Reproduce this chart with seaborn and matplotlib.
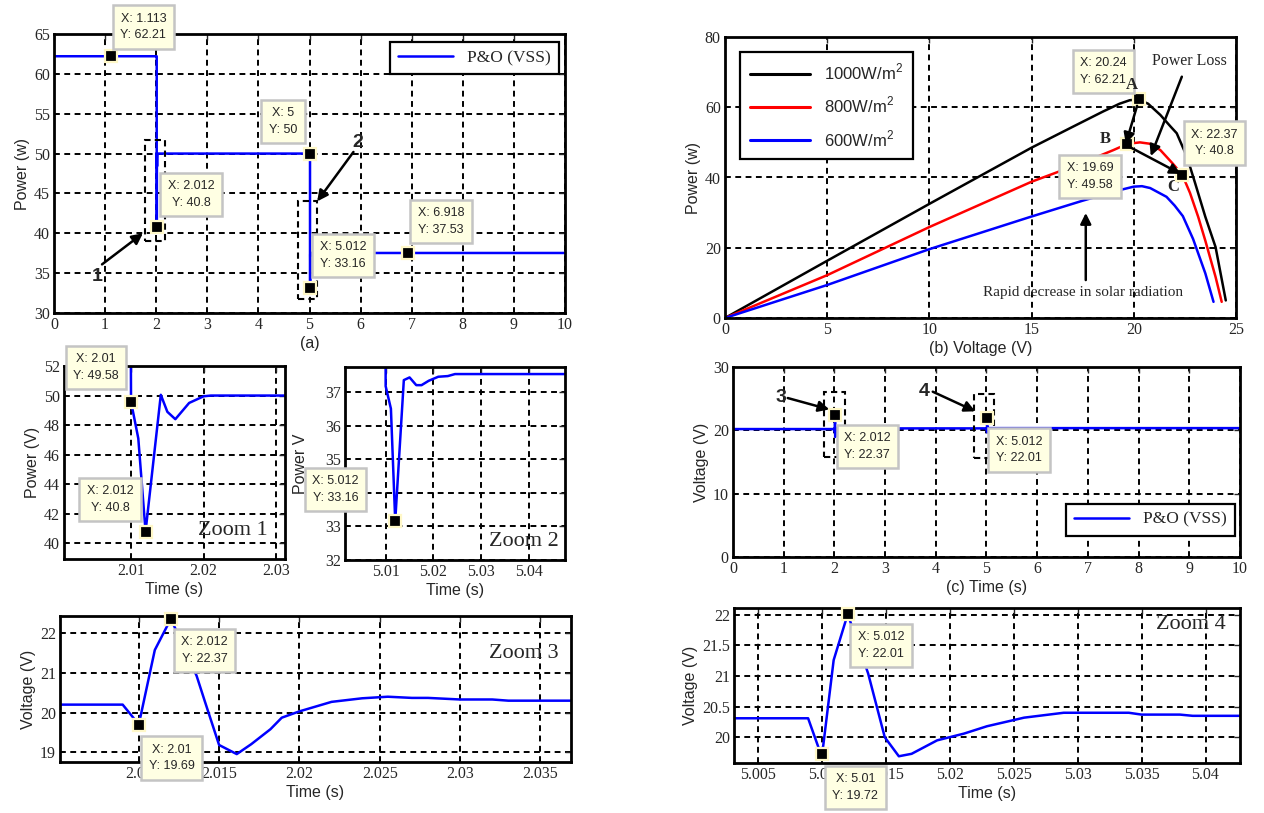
import numpy as np
import pandas as pd
import matplotlib
matplotlib.use("Agg")
import matplotlib.pyplot as plt
import matplotlib.patches as mpatches
from matplotlib.ticker import FuncFormatter
import seaborn as sns

# ---------------- data ----------------
# PV power vs time (panel a, zoom 1, zoom 2)
power_t = [0.0, 2.0, 2.0099, 2.0100, 2.0110, 2.0120, 2.0141, 2.0150, 2.0161, 2.0180,
           2.0200, 2.0210, 5.0, 5.0099, 5.0100, 5.0111, 5.0120, 5.0138, 5.0150, 5.0164,
           5.0175, 5.0190, 5.0210, 5.0230, 5.0245, 10.0]
power_w = [62.21, 62.21, 62.21, 49.58, 47.1, 40.8, 50.05, 48.9, 48.4, 49.5,
           49.95, 50.0, 50.0, 50.0, 37.17, 36.5, 33.16, 37.35, 37.43, 37.2,
           37.2, 37.33, 37.45, 37.47, 37.53, 37.53]

# PV voltage vs time (panel c, zoom 3, zoom 4)
volt_t = [0.0, 2.0090, 2.0097, 2.0100, 2.0110, 2.0120, 2.0136, 2.0141, 2.0150, 2.0161,
          2.0170, 2.0182, 2.0189, 2.0200, 2.0220, 2.0239, 2.0255, 2.0270, 2.0280, 2.0300,
          2.0320, 2.0330, 2.0370, 5.0089, 5.0097, 5.0100, 5.0109, 5.0120, 5.0136, 5.0149,
          5.0160, 5.0170, 5.0190, 5.0211, 5.0229, 5.0258, 5.0289, 5.0340, 5.0350, 5.0380,
          5.0390, 10.0]
volt_v = [20.2, 20.2, 19.85, 19.69, 21.58, 22.37, 20.93, 20.3, 19.18, 18.95,
          19.2, 19.58, 19.87, 20.03, 20.27, 20.36, 20.4, 20.37, 20.37, 20.33,
          20.33, 20.3, 20.3, 20.31, 19.84, 19.72, 21.26, 22.01, 21.04, 20.0,
          19.69, 19.73, 19.95, 20.06, 20.18, 20.32, 20.4, 20.4, 20.37, 20.37,
          20.35, 20.35]

# P-V curves (panel b)
v_1000 = [0, 5, 10, 15, 17, 18.5, 19.3, 19.8, 20.24, 20.7, 21.3, 21.8, 22.1, 22.6, 23.0, 23.5, 24.0, 24.5]
p_1000 = [0, 16.3, 32.5, 48.5, 54.4, 58.8, 61.0, 62.0, 62.21, 61.0, 57.8, 54.5, 52.6, 45.9, 38.4, 28.8, 20.2, 5.0]
v_800 = [0, 5, 10, 15, 17.5, 19.0, 19.69, 20.3, 20.8, 21.3, 21.9, 22.37, 22.75, 23.15, 23.5, 24.0, 24.3]
p_800 = [0, 12.2, 25.9, 38.8, 44.2, 47.8, 49.58, 50.0, 49.6, 47.8, 44.0, 40.8, 35.6, 28.8, 22.0, 11.7, 4.6]
v_600 = [0, 5, 10, 15, 17.5, 19.3, 20.0, 20.4, 20.8, 21.6, 22.0, 22.4, 22.9, 23.5, 23.9]
p_600 = [0, 9.4, 19.6, 28.9, 33.4, 36.4, 37.4, 37.53, 37.0, 34.5, 32.0, 29.0, 22.5, 12.7, 4.6]
pv_labels = ["1000W/m$^2$", "800W/m$^2$", "600W/m$^2$"]

# data tips
tips_a_x = [1.113, 2.012, 5.0, 5.012, 6.918]
tips_a_y = [62.21, 40.8, 50.0, 33.16, 37.53]
tips_b_x = [20.24, 19.69, 22.37]
tips_b_y = [62.21, 49.58, 40.8]
tips_c_x = [2.012, 5.012]
tips_c_y = [22.37, 22.01]
tips_z1_x = [2.01, 2.012]
tips_z1_y = [49.58, 40.8]
tips_z2_x = [5.012]
tips_z2_y = [33.16]
tips_z3_x = [2.012, 2.01]
tips_z3_y = [22.37, 19.69]
tips_z4_x = [5.012, 5.01]
tips_z4_y = [22.01, 19.72]

# ticks
ticks_a_x = list(range(0, 11)); ticks_a_y = [30, 35, 40, 45, 50, 55, 60, 65]
ticks_b_x = [0, 5, 10, 15, 20, 25]; ticks_b_y = [0, 20, 40, 60, 80]
ticks_c_x = list(range(0, 11)); ticks_c_y = [0, 10, 20, 30]
ticks_z1_x = [2.01, 2.02, 2.03]; ticks_z1_y = [40, 42, 44, 46, 48, 50, 52]
ticks_z2_x = [5.01, 5.02, 5.03, 5.04]; ticks_z2_y = [32, 33, 34, 35, 36, 37]
ticks_z3_x = [2.01, 2.015, 2.02, 2.025, 2.03, 2.035]; ticks_z3_y = [19, 20, 21, 22]
ticks_z4_x = [5.005, 5.01, 5.015, 5.02, 5.025, 5.03, 5.035, 5.04]; ticks_z4_y = [20, 20.5, 21, 21.5, 22]

# ---------------- style ----------------
sns.set_style("white")
SERIF = ["Liberation Serif", "DejaVu Serif"]
SANS = ["Liberation Sans", "DejaVu Sans"]
plt.rcParams["font.family"] = SANS
plt.rcParams["mathtext.fontset"] = "custom"
plt.rcParams["mathtext.rm"] = "Liberation Sans"

W, H = 1264, 813
fig = plt.figure(figsize=(W / 100, H / 100), dpi=100)
fig.patch.set_facecolor("white")


def make_ax(l, t, r, b):
    return fig.add_axes([l / W, 1 - b / H, (r - l) / W, (b - t) / H])


def style(ax, xlim, ylim, xt, yt, xlabel, ylabel, ypad=3):
    ax.set_xlim(*xlim)
    ax.set_ylim(*ylim)
    ax.set_xticks(xt)
    ax.set_yticks(yt)
    fmt = FuncFormatter(lambda v, p: f"{v:g}")
    ax.xaxis.set_major_formatter(fmt)
    ax.yaxis.set_major_formatter(fmt)
    for lab in ax.get_xticklabels() + ax.get_yticklabels():
        lab.set_family(SERIF)
        lab.set_fontsize(11.5)
    ax.tick_params(direction="in", length=4, width=1, top=True, right=True, pad=3)
    for s in ax.spines.values():
        s.set_linewidth(2)
        s.set_color("black")
        s.set_visible(True)
    ax.grid(True, color="black", linestyle=(0, (3, 2.3)), linewidth=1.4)
    ax.set_axisbelow(True)
    ax.set_xlabel(xlabel, fontsize=11.5, family=SANS, labelpad=2)
    ax.set_ylabel(ylabel, fontsize=11.5, family=SANS, labelpad=ypad)


def tip(ax, x, y, cx, cy):
    ax.plot([x], [y], marker="s", ms=9, mfc="black", mec="#fff8c8", mew=1.6,
            clip_on=False, zorder=6, ls="none")
    ax.text(cx, cy, f"X: {x:g}\nY: {y:g}", ha="center", va="center", fontsize=9,
            family=SANS, linespacing=1.5, zorder=7, clip_on=False,
            bbox=dict(boxstyle="square,pad=0.6", fc="#ffffe3", ec="#c4c4c4", lw=1.8))


def arrow(ax, tail, head):
    ax.annotate("", xy=head, xytext=tail, annotation_clip=False,
                arrowprops=dict(arrowstyle="-|>", color="black", lw=1.8,
                                mutation_scale=16, shrinkA=0, shrinkB=0), zorder=8)


def drect(ax, x0, x1, y0, y1):
    ax.add_patch(mpatches.Rectangle((x0, y0), x1 - x0, y1 - y0, fill=False, ec="black",
                                    lw=1.5, ls=(0, (3, 2)), clip_on=False, zorder=5))


blue = "#0000ff"

# ---------------- panel (a) ----------------
ax = make_ax(54, 34, 565, 313)
sns.lineplot(x=power_t, y=power_w, ax=ax, color=blue, lw=1.8, estimator=None,
             sort=False, label="P&O (VSS)")
style(ax, (0, 10), (30, 65), ticks_a_x, ticks_a_y, "(a)", "Power (w)")
leg = ax.legend(loc="upper right", bbox_to_anchor=(0.988, 0.97), borderaxespad=0,
                fancybox=False, edgecolor="black", framealpha=1, handlelength=3.2,
                prop={"family": SERIF, "size": 12.5}, borderpad=0.45)
leg.get_frame().set_linewidth(1.6)
centers_a = [(1.75, 65.85), (2.68, 44.85), (4.48, 54.05), (5.66, 37.2), (7.57, 41.5)]
for (x, y), (cx, cy) in zip(zip(tips_a_x, tips_a_y), centers_a):
    tip(ax, x, y, cx, cy)
drect(ax, 1.78, 2.17, 39.0, 51.7)
drect(ax, 4.78, 5.15, 31.8, 44.0)
arrow(ax, (0.94, 36.1), (1.74, 40.0))
arrow(ax, (5.86, 50.2), (5.15, 44.0))
ax.text(0.84, 34.6, "1", fontsize=14, fontweight="bold", ha="center", va="center")
ax.text(5.94, 51.4, "2", fontsize=14, fontweight="bold", ha="center", va="center")

# ---------------- zoom 1 ----------------
ax = make_ax(64, 366, 285, 559)
sns.lineplot(x=power_t, y=power_w, ax=ax, color=blue, lw=1.8, estimator=None,
             sort=False, legend=False)
style(ax, (2.00077, 2.0312), (38.94, 52), ticks_z1_x, ticks_z1_y, "Time (s)", "Power (V)")
for (x, y), (cx, cy) in zip(zip(tips_z1_x, tips_z1_y), [(2.0052, 51.9), (2.0071, 42.95)]):
    tip(ax, x, y, cx, cy)
ax.text(2.0288, 40.9, "Zoom 1", family=SERIF, fontsize=16, ha="right", va="center")

# ---------------- zoom 2 ----------------
ax = make_ax(345, 367, 565, 560)
sns.lineplot(x=power_t, y=power_w, ax=ax, color=blue, lw=1.8, estimator=None,
             sort=False, legend=False)
style(ax, (5.0015, 5.0475), (32, 37.74), ticks_z2_x, ticks_z2_y, "Time (s)", "Power V", ypad=12)
for (x, y), (cx, cy) in zip(zip(tips_z2_x, tips_z2_y), [(4.99955, 34.1)]):
    tip(ax, x, y, cx, cy)
ax.text(5.0462, 32.56, "Zoom 2", family=SERIF, fontsize=16, ha="right", va="center")

# ---------------- zoom 3 ----------------
ax = make_ax(60, 616, 571, 762)
sns.lineplot(x=volt_t, y=volt_v, ax=ax, color=blue, lw=1.8, estimator=None,
             sort=False, legend=False)
style(ax, (2.0051, 2.0369), (18.75, 22.44), ticks_z3_x, ticks_z3_y, "Time (s)", "Voltage (V)")
for (x, y), (cx, cy) in zip(zip(tips_z3_x, tips_z3_y), [(2.0141, 21.57), (2.01205, 18.85)]):
    tip(ax, x, y, cx, cy)
ax.text(2.0361, 21.48, "Zoom 3", family=SERIF, fontsize=16, ha="right", va="center")

# ---------------- panel (b) ----------------
ax = make_ax(725, 37, 1236, 318)
for vv, pp, col, lab in zip([v_1000, v_800, v_600], [p_1000, p_800, p_600],
                            ["black", "#ff0000", blue], pv_labels):
    sns.lineplot(x=vv, y=pp, ax=ax, color=col, lw=1.8, estimator=None, sort=False, label=lab)
style(ax, (0, 25), (0, 80), ticks_b_x, ticks_b_y, "(b) Voltage (V)", "Power (w)")
leg = ax.legend(loc="upper left", bbox_to_anchor=(0.03, 0.946), borderaxespad=0,
                fancybox=False, edgecolor="black", framealpha=1, handlelength=3.6,
                prop={"family": SANS, "size": 12}, labelspacing=0.75, borderpad=0.6)
leg.get_frame().set_linewidth(1.6)
for lh in leg.get_lines():
    lh.set_linewidth(2.2)
centers_b = [(18.51, 70.15), (17.87, 40.35), (23.96, 49.8)]
arrow(ax, (20.16, 60.4), (19.61, 49.6))
arrow(ax, (19.7, 49.0), (22.3, 41.0))
arrow(ax, (22.35, 68.7), (20.83, 46.1))
arrow(ax, (17.65, 10.8), (17.65, 29.9))
for (x, y), (cx, cy) in zip(zip(tips_b_x, tips_b_y), centers_b):
    tip(ax, x, y, cx, cy)
ax.text(19.88, 66.4, "A", family=SERIF, fontsize=12, fontweight="bold", ha="center", va="center", zorder=9)
ax.text(18.6, 50.9, "B", family=SERIF, fontsize=12, fontweight="bold", ha="center", va="center")
ax.text(21.93, 37.3, "C", family=SERIF, fontsize=12, fontweight="bold", ha="center", va="center")
ax.text(22.7, 73.2, "Power Loss", family=SERIF, fontsize=11.5, ha="center", va="center")
ax.text(17.5, 7.4, "Rapid decrease in solar radiation", family=SERIF, fontsize=11,
        ha="center", va="center")

# ---------------- panel (c) ----------------
ax = make_ax(733, 367, 1240, 557)
sns.lineplot(x=volt_t, y=volt_v, ax=ax, color=blue, lw=1.8, estimator=None,
             sort=False, label="P&O (VSS)")
style(ax, (0, 10), (0, 30), ticks_c_x, ticks_c_y, "(c) Time (s)", "Voltage (V)")
leg = ax.legend(loc="lower right", bbox_to_anchor=(0.99, 0.113), borderaxespad=0,
                fancybox=False, edgecolor="black", framealpha=1, handlelength=3.2,
                prop={"family": SERIF, "size": 12.5}, borderpad=0.45)
leg.get_frame().set_linewidth(1.6)
drect(ax, 1.80, 2.21, 15.85, 26.0)
drect(ax, 4.76, 5.15, 15.7, 25.8)
for (x, y), (cx, cy) in zip(zip(tips_c_x, tips_c_y), [(2.65, 17.45), (5.645, 16.9)]):
    tip(ax, x, y, cx, cy)
arrow(ax, (1.08, 25.1), (1.9, 23.3))
arrow(ax, (3.94, 26.1), (4.78, 23.0))
ax.text(0.94, 25.2, "3", fontsize=14, fontweight="bold", ha="center", va="center")
ax.text(3.77, 26.1, "4", fontsize=14, fontweight="bold", ha="center", va="center")

# ---------------- zoom 4 ----------------
ax = make_ax(734, 608, 1240, 763)
sns.lineplot(x=volt_t, y=volt_v, ax=ax, color=blue, lw=1.8, estimator=None,
             sort=False, legend=False)
style(ax, (5.0031, 5.0427), (19.58, 22.11), ticks_z4_x, ticks_z4_y, "Time (s)", "Voltage (V)")
for (x, y), (cx, cy) in zip(zip(tips_z4_x, tips_z4_y), [(5.0146, 21.5), (5.0126, 19.18)]):
    tip(ax, x, y, cx, cy)
ax.text(5.0416, 21.84, "Zoom 4", family=SERIF, fontsize=16, ha="right", va="center")

fig.savefig("out.png", dpi=100, facecolor="white")
